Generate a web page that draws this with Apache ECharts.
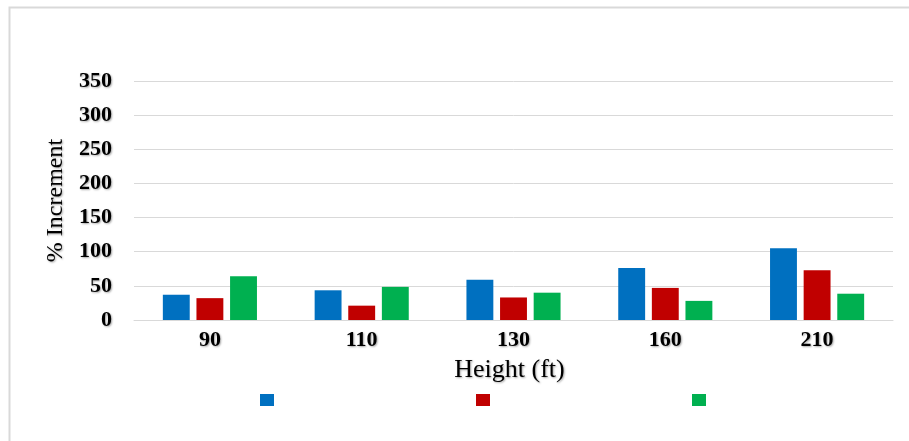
<!DOCTYPE html>
<html>
<head>
<meta charset="utf-8">
<script src="https://cdn.jsdelivr.net/npm/echarts@6/dist/echarts.min.js"></script>
<style>
html,body{margin:0;padding:0;background:#fff;}
#chart{width:909px;height:441px;}
</style>
</head>
<body>
<div id="chart"></div>
<script>
var categories = ['90', '110', '130', '160', '210'];
var seriesA = [37, 43.5, 59, 76, 105];
var seriesB = [32, 21, 33, 47, 73];
var seriesC = [64, 48.5, 40, 28, 38.5];
var seriesNames = ['A', 'B', 'C'];
var yTicks = [0, 50, 100, 150, 200, 250, 300, 350];

var FONT = '"Liberation Serif", "Times New Roman", serif';
var shadow = {textShadowColor: 'rgba(0,0,0,0.35)', textShadowBlur: 2, textShadowOffsetX: 1, textShadowOffsetY: 1};

var chart = echarts.init(document.getElementById('chart'));
chart.setOption({
  animation: false,
  backgroundColor: '#fff',
  graphic: [{
    type: 'rect', left: 7, top: 5, silent: true,
    shape: {width: 930, height: 460},
    style: {fill: 'none', stroke: '#d9d9d9', lineWidth: 2}
  }],
  grid: {left: 134, right: 16, top: 81, bottom: 121, containLabel: false},
  legend: {
    data: seriesNames,
    left: 255, top: 389,
    itemWidth: 14, itemHeight: 12, itemGap: 202,
    icon: 'rect',
    formatter: function () { return ''; },
    textStyle: {fontSize: 1}
  },
  xAxis: {
    type: 'category',
    data: categories,
    axisTick: {show: false},
    axisLine: {lineStyle: {color: '#d9d9d9', width: 1}},
    axisLabel: Object.assign({color: '#000', fontFamily: FONT, fontWeight: 'bold', fontSize: 22, margin: 9}, shadow),
    name: 'Height (ft)',
    nameLocation: 'middle',
    nameGap: 37,
    nameTextStyle: Object.assign({color: '#000', fontFamily: FONT, fontSize: 26, padding: [0, 8, 0, 0]}, shadow)
  },
  yAxis: {
    type: 'value',
    min: yTicks[0], max: yTicks[yTicks.length - 1], interval: 50,
    axisLine: {show: false},
    axisTick: {show: false},
    splitLine: {lineStyle: {color: '#d9d9d9', width: 1}},
    axisLabel: Object.assign({color: '#000', fontFamily: FONT, fontWeight: 'bold', fontSize: 22, margin: 22}, shadow),
    name: '% Increment',
    nameLocation: 'middle',
    nameGap: 64,
    nameRotate: 90,
    nameTextStyle: Object.assign({color: '#000', fontFamily: FONT, fontSize: 24}, shadow)
  },
  series: [
    {name: seriesNames[0], type: 'bar', data: seriesA, itemStyle: {color: '#0070C0'}, barGap: '25%', barCategoryGap: '38%'},
    {name: seriesNames[1], type: 'bar', data: seriesB, itemStyle: {color: '#C00000'}},
    {name: seriesNames[2], type: 'bar', data: seriesC, itemStyle: {color: '#00B050'}}
  ]
});
</script>
</body>
</html>
